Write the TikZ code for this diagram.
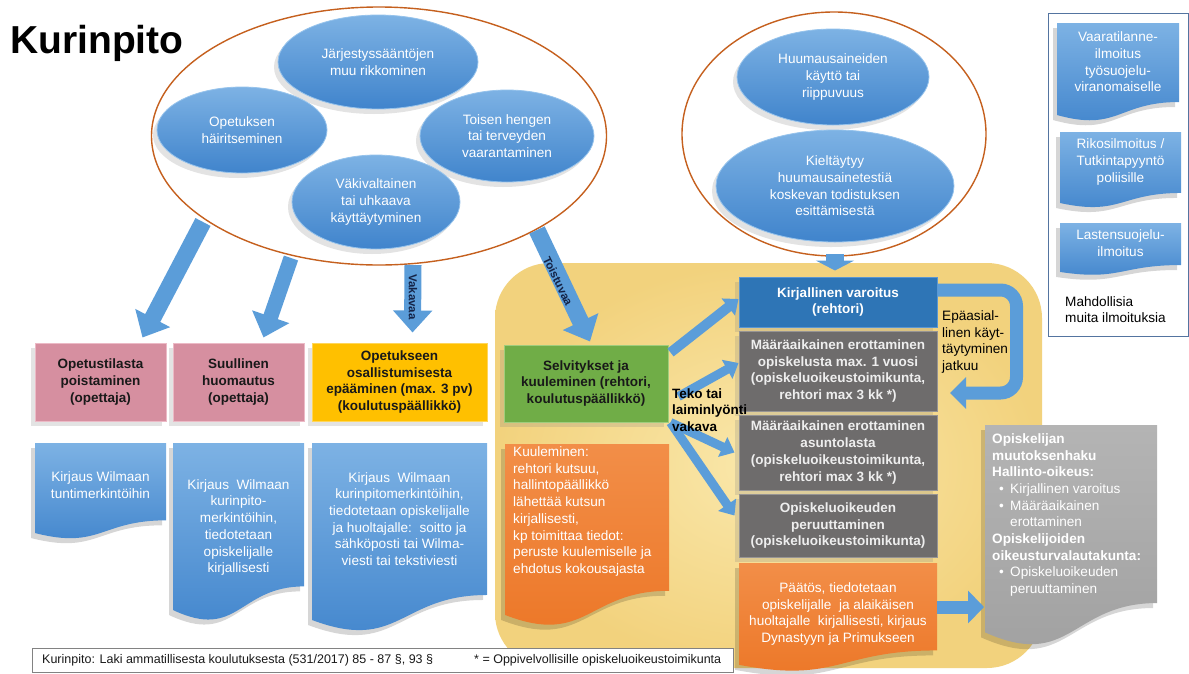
\documentclass[tikz,border=0pt]{standalone}
\usepackage{fontspec}
\setmainfont{Liberation Sans}
\usetikzlibrary{shapes.geometric,arrows.meta,shadows,calc}

\definecolor{ebltop}{RGB}{125,178,228}
\definecolor{eblbot}{RGB}{64,132,204}
\definecolor{ebledge}{RGB}{150,195,236}
\definecolor{brn}{RGB}{197,96,30}
\definecolor{pnk}{RGB}{214,143,160}
\definecolor{pnkb}{RGB}{236,186,198}
\definecolor{goldy}{RGB}{255,192,0}
\definecolor{goldb}{RGB}{255,214,90}
\definecolor{grn}{RGB}{112,173,71}
\definecolor{grnb}{RGB}{160,205,125}
\definecolor{kvb}{RGB}{46,117,182}
\definecolor{kvbb}{RGB}{90,150,210}
\definecolor{gry}{RGB}{110,108,108}
\definecolor{gryb}{RGB}{150,148,148}
\definecolor{gtxt}{RGB}{238,238,238}
\definecolor{lgry}{RGB}{160,160,160}
\definecolor{lgrytop}{RGB}{180,180,180}
\definecolor{orgtop}{RGB}{242,142,72}
\definecolor{orgbot}{RGB}{236,118,38}
\definecolor{ylwin}{RGB}{250,232,172}
\definecolor{ylwout}{RGB}{242,210,125}
\definecolor{arr}{RGB}{91,157,217}
\definecolor{frm}{RGB}{84,116,160}
\definecolor{txtd}{RGB}{25,25,25}
\definecolor{footc}{RGB}{130,130,130}
\definecolor{lbl}{RGB}{20,35,70}

\newcommand\fnreg{\fontsize{13.6pt}{16.7pt}\selectfont}
\newcommand\fnbold{\fontsize{13.5pt}{16.7pt}\selectfont\bfseries}
\newcommand\fnfoot{\fontsize{12.5pt}{15pt}\selectfont}
\newcommand\fnarr{\fontsize{11.5pt}{13pt}\selectfont\bfseries}
\newcommand\bul{\makebox[18pt][l]{\hspace{7pt}•}}

\newcommand\docshape[5]{%
\fill[black,opacity=.16,xshift=-4pt,yshift=-5pt] (#1,#2) -- ({#1+#3},#2) -- ({#1+#3},{#2+0.802*#4}) .. controls ({#1+0.5*#3},{#2+0.802*#4}) and ({#1+0.5*#3},{#2+1.1075*#4}) .. (#1,{#2+0.934*#4}) -- cycle;
\path[#5] (#1,#2) -- ({#1+#3},#2) -- ({#1+#3},{#2+0.802*#4}) .. controls ({#1+0.5*#3},{#2+0.802*#4}) and ({#1+0.5*#3},{#2+1.1075*#4}) .. (#1,{#2+0.934*#4}) -- cycle;}

\tikzset{
 shad/.style={drop shadow={opacity=.22,shadow xshift=-4pt,shadow yshift=-5pt}},
 bub/.style={ellipse, inner sep=0pt, top color=ebltop, bottom color=eblbot, draw=ebledge, line width=.8pt, text=white, align=center, font=\fnreg, shad},
 ring/.style={ellipse, draw=brn, line width=1.4pt, inner sep=0pt},
 boxs/.style={rectangle, inner sep=1pt, align=center, font=\fnbold, line width=1pt, shad},
 pinkbox/.style={boxs, fill=pnk, draw=pnkb, text=txtd, minimum width=131pt, minimum height=78pt},
 goldbox/.style={boxs, fill=goldy, draw=goldb, text=txtd, minimum width=175pt, minimum height=78pt},
 grnbox/.style={boxs, fill=grn, draw=grnb, text=txtd, minimum width=164pt, minimum height=77pt},
 kvbox/.style={boxs, fill=kvb, draw=kvbb, text=white, minimum width=198pt, minimum height=50pt},
 grybox/.style={boxs, fill=gry, draw=gryb, text=gtxt, minimum width=198pt},
 doctext/.style={text=white, align=center, font=\fnreg, inner sep=0pt},
 plaintxt/.style={text=black, align=left, font=\fnreg, inner sep=0pt, anchor=west},
 docblue/.style={top color=ebltop, bottom color=eblbot},
 docorg/.style={top color=orgtop, bottom color=orgbot},
 docgray/.style={top color=lgrytop, bottom color=lgry},
 bigarr/.style={draw=arr, line width=17pt, -{Triangle[width=38pt,length=22pt]}},
 midarr/.style={draw=arr, line width=13pt, -{Triangle[width=31pt,length=16pt]}},
 smallarr/.style={draw=arr, line width=9pt, -{Triangle[width=21pt,length=13pt]}},
 arrlbl/.style={font=\fnarr, text=lbl, inner sep=0pt},
}

\begin{document}
\begin{tikzpicture}[x=1pt,y=-1pt]
\useasboundingbox (0,0) rectangle (1189,673);
\fill[white] (0,0) rectangle (1189,673);

% yellow process region
\path[rounded corners=55pt, inner color=ylwin, outer color=ylwout] (495,263) rectangle (1042,668);

% title
\node[anchor=base west, font=\fontsize{39pt}{44pt}\selectfont\bfseries, inner sep=0pt] (title) at (10,53) {Kurinpito};

% left group of causes
\node[ring, minimum width=455pt, minimum height=258pt] (ringL) at (379,136) {};
\node[bub, minimum width=200pt, minimum height=94pt] (e1) at (378,62) {Järjestyssääntöjen\\muu rikkominen};
\node[bub, minimum width=170pt, minimum height=86pt] (e2) at (242,130) {Opetuksen\\häiritseminen};
\node[bub, minimum width=174pt, minimum height=92pt] (e3) at (507,136) {Toisen hengen\\tai terveyden\\vaarantaminen};
\node[bub, minimum width=168pt, minimum height=94pt] (e4) at (376,202) {Väkivaltainen\\tai uhkaava\\käyttäytyminen};

% right group of causes
\node[ring, minimum width=304pt, minimum height=244pt] (ringR) at (834,134) {};
\node[bub, minimum width=192pt, minimum height=96pt] (e5) at (833,77) {Huumausaineiden\\käyttö tai\\riippuvuus};
\node[bub, minimum width=238pt, minimum height=112pt] (e6) at (835,186) {Kieltäytyy\\huumausainetestiä\\koskevan todistuksen\\esittämisestä};

% right panel
\node[draw=frm, line width=1pt, minimum width=140pt, minimum height=323pt, anchor=north west, inner sep=0pt] (panel) at (1048,13) {};
\docshape{1057}{23}{122}{98.5}{docblue}
\docshape{1060}{132}{121}{76}{docblue}
\docshape{1060}{223}{121}{52.4}{docblue}
\node[doctext] (r1) at (1118,62) {Vaaratilanne-\\ilmoitus\\työsuojelu-\\viranomaiselle};
\node[doctext] (r2) at (1120.5,162) {Rikosilmoitus /\\Tutkintapyyntö\\poliisille};
\node[doctext] (r3) at (1120.5,243) {Lastensuojelu-\\ilmoitus};
\node[plaintxt] (muut) at (1065,309.5) {Mahdollisia\\muita ilmoituksia};

% left column boxes
\node[pinkbox] (p1) at (100.5,382) {Opetustilasta\\poistaminen\\(opettaja)};
\node[pinkbox] (p2) at (238.5,382) {Suullinen\\huomautus\\(opettaja)};
\node[goldbox] (o3) at (399.5,382) {Opetukseen\\osallistumisesta\\epääminen (max. 3 pv)\\(koulutuspäällikkö)};

\docshape{35}{443}{131}{96.4}{docblue}
\docshape{173}{443}{131}{178.8}{docblue}
\docshape{312}{443}{175}{189.5}{docblue}
\node[doctext] (b1) at (100.5,485) {Kirjaus Wilmaan\\tuntimerkintöihin};
\node[doctext] (b2) at (238.5,527.5) {Kirjaus\ \ Wilmaan\\kurinpito-\\merkintöihin,\\tiedotetaan\\opiskelijalle\\kirjallisesti};
\node[doctext] (b3) at (399.5,519) {Kirjaus\ \ Wilmaan\\kurinpitomerkintöihin,\\tiedotetaan opiskelijalle\\ja huoltajalle:\ \ soitto ja\\sähköposti tai Wilma-\\viesti tai tekstiviesti};

% process boxes
\node[grnbox] (grn) at (586,383.5) {Selvitykset ja\\kuuleminen (rehtori,\\koulutuspäällikkö)};
\docshape{505}{444}{164}{183}{docorg}
\node[doctext, anchor=west, align=left] (kuul) at (513,511.5) {Kuuleminen:\\rehtori kutsuu,\\hallintopäällikkö\\lähettää kutsun\\kirjallisesti,\\kp toimittaa tiedot:\\peruste kuulemiselle ja\\ehdotus kokousajasta};

% sanction boxes
\node[kvbox] (kv) at (838,302) {Kirjallinen varoitus\\(rehtori)};
\node[grybox, minimum height=80pt] (g1) at (838,371) {Määräaikainen erottaminen\\opiskelusta max. 1 vuosi\\(opiskeluoikeustoimikunta,\\rehtori max 3 kk *)};
\node[grybox, minimum height=75pt] (g2) at (838,452.5) {Määräaikainen erottaminen\\asuntolasta\\(opiskeluoikeustoimikunta,\\rehtori max 3 kk *)};
\node[grybox, minimum height=63pt] (g3) at (838,525.5) {Opiskeluoikeuden\\peruuttaminen\\(opiskeluoikeustoimikunta)};
\docshape{739}{563}{198}{109}{docorg}
\node[doctext] (paat) at (838,614) {Päätös, tiedotetaan\\opiskelijalle\ \ ja alaikäisen\\huoltajalle\ \ kirjallisesti, kirjaus\\Dynastyyn ja Primukseen};

% arrows from the cause groups
\coordinate (a1s) at (203,222);
\coordinate (a2s) at (291,258);
\coordinate (a3s) at (413,265);
\coordinate (a4s) at (537,230);
\coordinate (a5s) at (835,254);
\draw[bigarr] (a1s) -- ([xshift=42pt,yshift=5pt]p1.north);
\draw[bigarr, line width=15pt] (a2s) -- ([xshift=25pt,yshift=5pt]p2.north);
\draw[bigarr] (a3s) -- ([xshift=13pt,yshift=10pt]o3.north);
\draw[bigarr] (a4s) -- ([xshift=4pt,yshift=3pt]grn.north);
\draw[draw=arr, line width=18pt, -{Triangle[width=38pt,length=10pt]}] (a5s) -- ([xshift=-3pt,yshift=6pt]kv.north);
\node[arrlbl, rotate=-90] (lvak) at (413,297) {Vakavaa};
\node[arrlbl, rotate=-64] (ltoi) at (558,281) {Toistuvaa};

% arrows from the hearing box
\draw[smallarr, line width=10pt] ([xshift=2pt,yshift=31pt]grn.east) -- ([yshift=3pt]kv.west);
\draw[smallarr] ([xshift=10pt,yshift=-13pt]grn.east) -- ([yshift=8pt]g1.west);
\draw[smallarr] ([xshift=2pt]grn.south east) -- ([xshift=-4pt]g2.west);
\draw[smallarr] ([xshift=2pt]grn.south east) -- ([xshift=-4pt,yshift=10pt]g3.west);
\node[anchor=west, align=left, font=\fnbold, text=black, inner sep=0pt] (teko) at (672,410) {Teko tai\\laiminlyönti\\vakava};

% repeat loop
\coordinate (utip) at (950,393);
\draw[midarr, rounded corners=16pt] ([yshift=12pt]kv.east) -- ++(79,0) -- ++(0,103) -- (utip);
\node[plaintxt] (epa) at (942,342) {Epäasial-\\linen käyt-\\täytyminen\\jatkuu};

% appeal
\docshape{985}{425}{172}{222}{docgray}
\coordinate (pr) at (937,607);
\coordinate (opl) at (984,607);
\draw[midarr, -{Triangle[width=32pt,length=16pt]}] (pr) -- (opl);
\node[doctext, anchor=west, align=left] (valitus) at (992,515) {\textbf{Opiskelijan}\\\textbf{muutoksenhaku}\\\textbf{Hallinto-oikeus:}\\\bul Kirjallinen varoitus\\\bul Määräaikainen\\\hspace*{18pt}erottaminen\\\textbf{Opiskelijoiden}\\\textbf{oikeusturvalautakunta:}\\\bul Opiskeluoikeuden\\\hspace*{18pt}peruuttaminen};

% footer
\node[draw=footc, fill=white, line width=.8pt, minimum width=701pt, minimum height=24pt, anchor=north west, inner sep=0pt] (foot) at (32,648) {};
\node[anchor=west, font=\fnfoot, inner sep=0pt, text=txtd] (footl) at (42,660.5) {Kurinpito: Laki ammatillisesta koulutuksesta (531/2017) 85 - 87 §, 93 §};
\node[anchor=west, font=\fnfoot, inner sep=0pt, text=txtd] (footr) at (474,660.5) {* = Oppivelvollisille opiskeluoikeustoimikunta};
\end{tikzpicture}
\end{document}
